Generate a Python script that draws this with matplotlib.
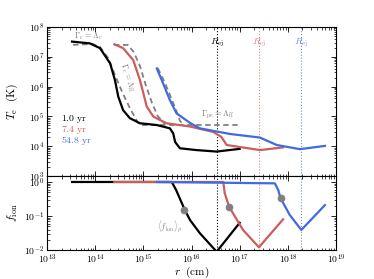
import numpy as np
import matplotlib
matplotlib.use("Agg")
import matplotlib.pyplot as plt
from matplotlib.ticker import LogLocator, FuncFormatter, NullFormatter

plt.rcParams['mathtext.fontset'] = 'cm'
plt.rcParams['font.family'] = 'serif'
plt.rcParams['font.serif'] = ['DejaVu Serif']

# electron temperature profiles, log10(r / cm) and log10(T_e / K)
logR_1yr = [13.52, 13.89, 14.10, 14.31, 14.41, 14.48, 14.58, 14.72, 14.93, 15.28,
            15.55, 15.62, 15.66, 15.76, 16.10, 16.52, 17.00]
logT_1yr = [7.51, 7.45, 7.29, 6.78, 6.22, 5.66, 5.21, 4.94, 4.77, 4.71,
            4.60, 4.43, 4.14, 3.93, 3.87, 3.82, 3.91]
logR_7yr = [14.40, 14.58, 14.79, 14.93, 15.00, 15.07, 15.21, 15.48, 15.97, 16.45,
            16.62, 16.73, 17.42, 17.90]
logT_7yr = [7.42, 7.29, 6.89, 6.22, 5.78, 5.33, 4.99, 4.77, 4.66, 4.48,
            4.31, 4.04, 3.87, 3.96]
logR_55yr = [15.28, 15.41, 15.55, 15.69, 15.97, 16.17, 16.80, 17.42, 17.77, 18.25, 18.77]
logT_55yr = [6.61, 6.11, 5.55, 5.10, 4.78, 4.60, 4.41, 4.29, 4.04, 3.90, 4.01]

# analytic equilibrium approximations (dashed)
logR_eq1 = [13.54, 13.95, 14.10, 14.27, 14.41, 14.56, 14.72, 14.89, 14.97]
logT_eq1 = [7.40, 7.43, 7.33, 6.96, 6.39, 5.82, 5.28, 4.78, 4.71]
logR_eq7 = [14.39, 14.68, 14.80, 14.93, 15.05, 15.18, 15.30, 15.45]
logT_eq7 = [7.40, 7.40, 7.16, 6.69, 6.05, 5.45, 5.01, 4.74]
logR_eq55 = [15.30, 15.45, 15.57, 15.68, 15.76, 15.84]
logT_eq55 = [6.62, 6.12, 5.65, 5.21, 4.85, 4.71]
logR_floor = [14.97, 17.00]
logT_floor = [4.71, 4.71]

# ionised fraction, log10(f_ion)
logRf_1yr = [13.52, 15.59, 15.68, 15.86, 15.97, 16.17, 16.49, 16.52, 16.55, 17.00]
logF_1yr = [0.0, 0.0, -0.235, -0.82, -1.12, -1.50, -2.0, -2.08, -2.0, -1.20]
logRf_7yr = [14.40, 16.66, 16.69, 16.78, 17.07, 17.40, 17.90]
logF_7yr = [0.0, 0.0, -0.33, -0.73, -1.41, -1.92, -1.10]
logRf_55yr = [15.28, 17.73, 17.80, 17.85, 18.04, 18.28, 18.77]
logF_55yr = [0.0, -0.04, -0.235, -0.48, -0.97, -1.41, -0.68]

# density weighted mean ionised fraction
logR_mean = [15.85, 16.78, 17.85]
logF_mean = [-0.82, -0.73, -0.48]

# ejecta radius
logR_ej = [16.53, 17.40, 18.28]

ages = [r'$1.0\ \mathrm{yr}$', r'$7.4\ \mathrm{yr}$', r'$54.8\ \mathrm{yr}$']
colors = ['black', '#cd5c5c', '#4169e1']
dotColors = ['black', '#e08080', '#7090e0']

fig = plt.figure(figsize=(3.74, 2.79), dpi=100)
axT = fig.add_axes([0.1257, 0.3692, 0.7727, 0.5340])
axF = fig.add_axes([0.1257, 0.1039, 0.7727, 0.2653], sharex=axT)

for x, y in [(logR_eq1, logT_eq1), (logR_eq7, logT_eq7),
             (logR_eq55, logT_eq55), (logR_floor, logT_floor)]:
    axT.plot(10**np.array(x), 10**np.array(y), ls=(0, (3, 2)),
             color='#808080', lw=1.3, zorder=2)

curvesT = [(logR_1yr, logT_1yr), (logR_7yr, logT_7yr), (logR_55yr, logT_55yr)]
curvesF = [(logRf_1yr, logF_1yr), (logRf_7yr, logF_7yr), (logRf_55yr, logF_55yr)]
for (x, y), c in zip(curvesT, colors):
    axT.plot(10**np.array(x), 10**np.array(y), color=c, lw=1.6, zorder=3)
for (x, y), c in zip(curvesF, colors):
    axF.plot(10**np.array(x), 10**np.array(y), color=c, lw=1.6, zorder=3)
axF.plot(10**np.array(logR_mean), 10**np.array(logF_mean), 'o',
         color='#808080', ms=4.5, zorder=4)

for r, c in zip(logR_ej, dotColors):
    for ax in (axT, axF):
        ax.axvline(10**r, color=c, ls=':', lw=0.8, zorder=1)
    axT.text(10**r, 10**7.46, r'$R_{\rm ej}$', color=c, fontsize=7,
             ha='center', va='center')

axT.text(10**13.55, 10**7.7, r'$\Gamma_{\rm c}=\Lambda_{\rm c}$',
         color='#808080', fontsize=6, va='center')
axT.text(10**14.67, 10**6.3, r'$\Gamma_{\rm c}=\Lambda_{\rm ff}$',
         color='#808080', fontsize=6, ha='center', va='center', rotation=-72)
axT.text(10**16.2, 10**5.05, r'$\Gamma_{\rm pe}=\Lambda_{\rm ff}$',
         color='#808080', fontsize=6, va='center')
axF.text(10**15.55, 10**-1.28, r'$\langle f_{\rm ion}\rangle_{\rho}$',
         color='#808080', fontsize=6, ha='center', va='center')

for i, (lab, c) in enumerate(zip(ages, colors)):
    axT.text(10**13.3, 10**(4.9 - 0.36 * i), lab, color=c, fontsize=7,
             va='center')

axT.set_xscale('log')
axT.set_yscale('log')
axF.set_yscale('log')
axT.set_xlim(1e13, 1e19)
axT.set_ylim(1e3, 1e8)
axF.set_ylim(1e-2, 1.5)

fmt = FuncFormatter(lambda v, p: r'$10^{%d}$' % round(np.log10(v)))
for ax in (axT, axF):
    ax.xaxis.set_major_locator(LogLocator(base=10, numticks=10))
    ax.xaxis.set_minor_locator(LogLocator(base=10, subs=np.arange(2, 10), numticks=10))
    ax.yaxis.set_major_locator(LogLocator(base=10, numticks=10))
    ax.yaxis.set_minor_locator(LogLocator(base=10, subs=np.arange(2, 10), numticks=10))
    ax.yaxis.set_major_formatter(fmt)
    ax.yaxis.set_minor_formatter(NullFormatter())
    ax.tick_params(which='both', direction='in', top=True, right=True,
                   labelsize=7, pad=2)
    ax.tick_params(which='major', length=3.5, width=0.6)
    ax.tick_params(which='minor', length=1.8, width=0.5)
    for s in ax.spines.values():
        s.set_linewidth(0.8)
axF.xaxis.set_major_formatter(fmt)
axF.xaxis.set_minor_formatter(NullFormatter())
axF.tick_params(axis='x', pad=1.5)
plt.setp(axT.get_xticklabels(), visible=False)

axT.set_ylabel(r'$T_{\rm e}\ \ (\mathrm{K})$', fontsize=8.5)
axF.set_ylabel(r'$f_{\rm ion}$', fontsize=8.5)
axF.set_xlabel(r'$r\ \ (\mathrm{cm})$', fontsize=8, labelpad=-1)
axT.yaxis.set_label_coords(-0.095, 0.5)
axF.yaxis.set_label_coords(-0.095, 0.5)

fig.savefig('out.png', dpi=100)
